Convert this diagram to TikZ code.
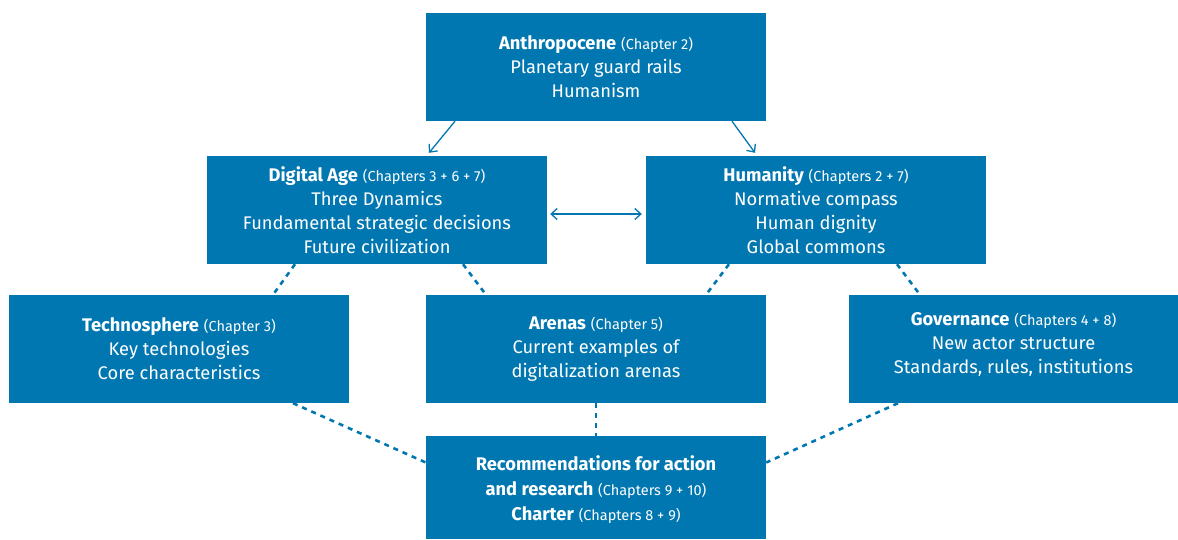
\documentclass[tikz,border=0pt]{standalone}
\usepackage{fontspec}
\setmainfont{Fira Sans}
\usetikzlibrary{arrows.meta}
\definecolor{wbgu}{RGB}{0,119,176}
\begin{document}
\begin{tikzpicture}[x=1pt,y=-1pt,
  box/.style={fill=wbgu, text=white, inner sep=0pt, align=center,
    minimum width=340pt, minimum height=108pt,
    font=\fontsize{18.3}{24}\selectfont},
  txt/.style={text=white, inner sep=0pt, align=center, font=\fontsize{18.3}{24}\selectfont},
  arr/.style={draw=wbgu, line width=1.3pt, -{Straight Barb[length=6pt,width=11pt]}},
  darr/.style={draw=wbgu, line width=1.3pt, {Straight Barb[length=6pt,width=11pt]}-{Straight Barb[length=6pt,width=11pt]}},
  dsh/.style={draw=wbgu, line width=2.6pt, dash pattern=on 5pt off 5pt}]
\newcommand{\chp}[1]{{\fontsize{14.5}{24}\selectfont #1}}
\useasboundingbox (0,0) rectangle (1178,539);
\node[box] (anth) at (596,67) {\textbf{Anthropocene} \chp{(Chapter 2)}\\Planetary guard rails\\Humanism};
\node[box] (dig) at (377,210) {\textbf{Digital Age} \chp{(Chapters 3 + 6 + 7)}\\Three Dynamics\\Fundamental strategic decisions\\Future civilization};
\node[box] (hum) at (816,210) {\textbf{Humanity} \chp{(Chapters 2 + 7)}\\Normative compass\\Human dignity\\Global commons};
\node[box] (tech) at (179,349) {\textbf{Technosphere} \chp{(Chapter 3)}\\Key technologies\\Core characteristics};
\node[box] (are) at (596,349) {\textbf{Arenas} \chp{(Chapter 5)}\\Current examples of\\digitalization arenas};
\node[box, minimum width=329pt] (gov) at (1013.5,349) {};
\node[txt] (govt) at (1013.5,345) {\textbf{Governance} \chp{(Chapters 4 + 8)}\\New actor structure\\Standards, rules, institutions};
\node[box, minimum height=103pt] (rec) at (596,487.5) {};
\node[txt, font=\fontsize{18.3}{25}\selectfont] (rect) at (596,490) {\textbf{Recommendations for action}\\\textbf{and research} \chp{(Chapters 9 + 10)}\\\textbf{Charter} \chp{(Chapters 8 + 9)}};
\draw[arr] ([xshift=-141pt]anth.south) -- ([xshift=52pt,yshift=3pt]dig.north);
\draw[arr] ([xshift=136pt]anth.south) -- ([xshift=-61pt,yshift=3pt]hum.north);
\draw[darr] ([xshift=3pt,yshift=-4pt]dig.east) -- ([xshift=-4pt,yshift=-4pt]hum.west);
\draw[dsh] ([xshift=-82pt]dig.south) -- ([xshift=94pt]tech.north);
\draw[dsh] ([xshift=86pt]dig.south) -- ([xshift=-110pt]are.north);
\draw[dsh] ([xshift=-87pt]hum.south) -- ([xshift=110pt]are.north);
\draw[dsh] ([xshift=81pt]hum.south) -- ([xshift=-93.5pt]gov.north);
\draw[dsh] (are.south) -- (rec.north);
\draw[dsh] ([xshift=114pt]tech.south) -- ([yshift=25pt]rec.west);
\draw[dsh] ([xshift=-115.5pt]gov.south) -- ([yshift=25pt]rec.east);
\end{tikzpicture}
\end{document}
